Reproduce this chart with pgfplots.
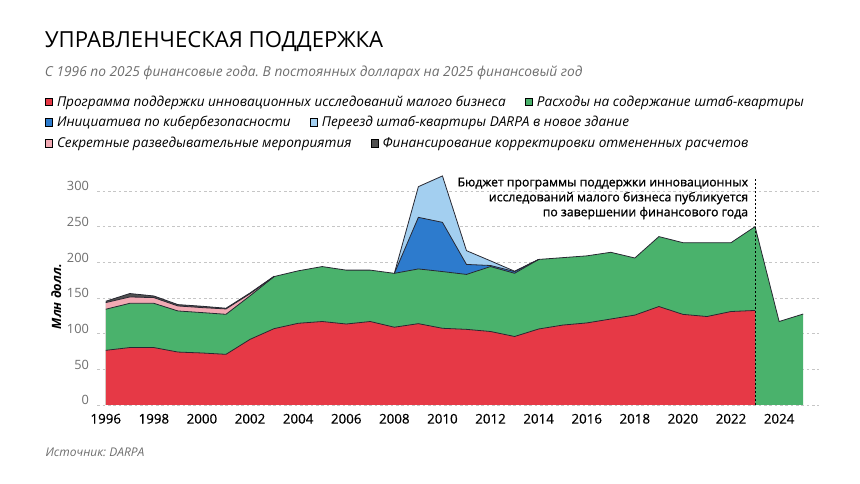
\documentclass[border=0pt]{standalone}
\usepackage{pgfplots}
\pgfplotsset{compat=1.18}
\usepackage{pgfplotstable}
\usepackage{fontspec}
\setmainfont{Open Sans}
\newfontfamily\medfont{Open Sans}[FakeBold=1.0]
\newfontfamily\tickfont{Open Sans}[FakeBold=0.6]
\frenchspacing

\definecolor{cred}{RGB}{230,57,70}
\definecolor{cgreen}{RGB}{74,178,108}
\definecolor{cblue}{RGB}{45,123,205}
\definecolor{clblue}{RGB}{163,207,240}
\definecolor{cpink}{RGB}{242,170,180}
\definecolor{cdark}{RGB}{80,80,80}
\definecolor{cedge}{RGB}{40,40,50}
\definecolor{ctxtgray}{RGB}{110,110,110}

% cumulative tops of each stacked layer
\pgfplotstableread{
year v
1996 76.6
1997 80.5
1998 80.5
1999 74.2
2000 72.9
2001 71
2002 92
2003 107
2004 114.5
2005 117
2006 113.5
2007 117
2008 109
2009 114
2010 107.5
2011 106
2012 103
2013 96
2014 106.5
2015 112
2016 115
2017 120.5
2018 126
2019 138
2020 127
2021 124
2022 131
2023 132.5
}\tred
\pgfplotstableread{
year v
1996 134.2
1997 142.5
1998 142.5
1999 131.8
2000 129.5
2001 127.1
2002 153
2003 180
2004 188
2005 194
2006 189
2007 189
2008 184.5
2009 190.7
2010 187
2011 183
2012 194
2013 184.6
2014 204
2015 206.5
2016 209
2017 214
2018 206
2019 236
2020 227.5
2021 227.5
2022 227.5
2023 250
2024 117
2025 127.5
}\tgreen
\pgfplotstableread{
year v
2008 184.5
2009 263
2010 256
2011 197
2012 195.5
2013 187
2014 204
}\tblue
\pgfplotstableread{
year v
2008 184.5
2009 306
2010 321
2011 216.3
2012 202
2013 187.5
2014 204
}\tlblue
\pgfplotstableread{
year v
1996 143.5
1997 151.4
1998 150.5
1999 138.8
2000 136.5
2001 134.6
2002 156
2003 180
}\tpink
\pgfplotstableread{
year v
1996 145.4
1997 156.2
1998 152.8
1999 140.7
2000 138.4
2001 135.6
2002 157
2003 180.5
}\tdark

\pgfplotsset{
  legrow/.style={hide axis, scale only axis, width=1pt, height=1pt,
    xmin=0, xmax=1, ymin=0, ymax=1, anchor=west,
    legend columns=2,
    legend style={at={(0,0.5)}, anchor=west, draw=none, fill=none, inner sep=0pt,
      font=\fontsize{10.2}{12}\selectfont\itshape,
      /tikz/every even column/.append style={column sep=12.5pt},
      /tikz/every odd column/.append style={column sep=1pt}},
    legend cell align=left,
    legend image code/.code={\fill[##1] (0pt,-2.7pt) rectangle (5.4pt,2.7pt);}
  }
}

\begin{document}
\begin{tikzpicture}
\path[use as bounding box] (0,0) rectangle (645pt,363pt);

\node[anchor=base west, inner sep=0pt] at (33.5pt,327.5pt)
  {\fontsize{16.6}{18}\selectfont УПРАВЛЕНЧЕСКАЯ ПОДДЕРЖКА};
\node[anchor=base west, inner sep=0pt, text=ctxtgray] at (33.5pt,305.5pt)
  {\fontsize{10.3}{12}\selectfont\itshape С 1996 по 2025 финансовые года. В постоянных долларах на 2025 финансовый год};

\begin{axis}[legrow, at={(33.75pt,286.5pt)}]
\addlegendimage{fill=cred}\addlegendentry{Программа поддержки инновационных исследований малого бизнеса}
\addlegendimage{fill=cgreen}\addlegendentry{Расходы на содержание штаб-квартиры}
\end{axis}
\begin{axis}[legrow, at={(33.75pt,271.25pt)}]
\addlegendimage{fill=cblue}\addlegendentry{Инициатива по кибербезопасности}
\addlegendimage{fill=clblue}\addlegendentry{Переезд штаб-квартиры DARPA в новое здание}
\end{axis}
\begin{axis}[legrow, at={(33.75pt,255.5pt)}]
\addlegendimage{fill=cpink}\addlegendentry{Секретные разведывательные мероприятия}
\addlegendimage{fill=cdark}\addlegendentry{Финансирование корректировки отмененных расчетов}
\end{axis}

\begin{axis}[
  at={(73pt,59.25pt)}, anchor=south west,
  scale only axis, width=541.1pt, height=176.6pt,
  xmin=1995.65, xmax=2025.65, ymin=0, ymax=330,
  axis lines=left, axis line style={draw=none}, tick style={draw=none},
  clip=false,
  xtick={1996,1998,...,2024},
  ytick={0,50,...,300},
  ymajorgrids, grid style={dash pattern=on 2pt off 2pt, gray!45, line width=0.5pt},
  /pgf/number format/assume math mode=true,
  xticklabel style={/pgf/number format/1000 sep={}, font=\tickfont\fontsize{10}{12}\selectfont, yshift=-1pt},
  yticklabel style={font=\fontsize{9.6}{11}\selectfont, text=ctxtgray, anchor=base east, inner sep=0pt, xshift=-4pt},
  ylabel={Млн долл.},
  ylabel style={at={(axis description cs:-0.057,0.46)}, anchor=center, font=\fontsize{9.6}{11}\selectfont\bfseries\itshape},
]
\addplot[fill=cdark, draw=none] table[x=year,y=v]{\tdark} \closedcycle;
\addplot[fill=cpink, draw=none] table[x=year,y=v]{\tpink} \closedcycle;
\addplot[fill=clblue, draw=none] table[x=year,y=v]{\tlblue} \closedcycle;
\addplot[fill=cblue, draw=none] table[x=year,y=v]{\tblue} \closedcycle;
\addplot[fill=cgreen, draw=none] table[x=year,y=v]{\tgreen} \closedcycle;
\addplot[fill=cred, draw=none] table[x=year,y=v]{\tred} \closedcycle;

\addplot[cedge, line width=0.6pt, no marks] table[x=year,y=v]{\tdark};
\addplot[cedge, line width=0.6pt, no marks] table[x=year,y=v]{\tpink};
\addplot[cedge, line width=0.6pt, no marks] table[x=year,y=v]{\tlblue};
\addplot[cedge, line width=0.6pt, no marks] table[x=year,y=v]{\tblue};
\addplot[cedge, line width=0.6pt, no marks] table[x=year,y=v]{\tgreen};
\addplot[cedge, line width=0.6pt, no marks] table[x=year,y=v]{\tred};

\draw[black, line width=0.6pt, dash pattern=on 1.5pt off 1.5pt] (axis cs:2023,0) -- (axis cs:2023,318);
\node[anchor=north east, align=right, inner sep=0pt, font=\medfont\fontsize{9.2}{11.2}\selectfont]
  at (axis cs:2022.72,319) {Бюджет программы поддержки инновационных\\исследований малого бизнеса публикуется\\по завершении финансового года};
\end{axis}

\node[anchor=base west, inner sep=0pt, text=ctxtgray] at (34pt,20.5pt)
  {\fontsize{9}{11}\selectfont\itshape Источник: DARPA};
\end{tikzpicture}
\end{document}
